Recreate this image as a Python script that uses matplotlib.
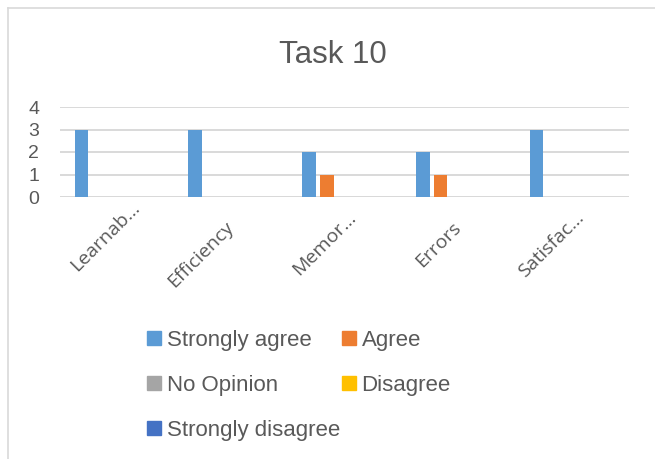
import numpy as np
import matplotlib
matplotlib.use('Agg')
import matplotlib.pyplot as plt
from matplotlib.lines import Line2D
from matplotlib.patches import Patch
from matplotlib.transforms import ScaledTranslation

plt.rcParams['font.family'] = ['Liberation Sans', 'DejaVu Sans']

categories = ['Learnab\u2026', 'Efficiency', 'Memor\u2026', 'Errors', 'Satisfac\u2026']
series_names = ['Strongly agree', 'Agree', 'No Opinion', 'Disagree', 'Strongly disagree']
strongly_agree = [3, 3, 2, 2, 3]
agree = [0, 0, 1, 1, 0]
no_opinion = [0, 0, 0, 0, 0]
disagree = [0, 0, 0, 0, 0]
strongly_disagree = [0, 0, 0, 0, 0]
colors = ['#5b9bd5', '#ed7d31', '#a5a5a5', '#ffc000', '#4472c4']
text_col = '#595959'
grid_col = '#d9d9d9'

values = [strongly_agree, agree, no_opinion, disagree, strongly_disagree]

W, H = 655, 459
fig = plt.figure(figsize=(W / 100, H / 100), dpi=100)
ax = fig.add_axes([60 / W, 1 - 197 / H, (629 - 60) / W, (197 - 107) / H])

x = np.arange(len(categories))
width = 0.12
step = 0.156
for i, (vals, c) in enumerate(zip(values, colors)):
    ax.bar(x + (i - 2) * step, vals, width, color=c, zorder=3)

ax.set_xlim(-0.5, len(categories) - 0.5)
ax.set_ylim(0, 4)
ax.set_yticks([0, 1, 2, 3, 4])
ax.yaxis.grid(True, color=grid_col, linewidth=1.4, zorder=0)
for s in ax.spines.values():
    s.set_visible(False)
ax.axhline(0, color=grid_col, linewidth=1.4, zorder=1)
ax.tick_params(axis='both', length=0, colors=text_col)
ax.tick_params(axis='y', labelsize=14, pad=15)
ax.set_xticks(x)
ax.set_xticklabels([])

# rotated category labels; truncated ones sit a little further along
shift = [28, 0, 13, 0, 13]
for xi, lab, sh in zip(x, categories, shift):
    d = sh / 100 / np.sqrt(2)
    off = ScaledTranslation(d, -0.275 + d, fig.dpi_scale_trans)
    ax.text(xi, 0, lab, transform=ax.get_xaxis_transform() + off,
            rotation=45, rotation_mode='anchor', ha='right', va='center',
            fontsize=14, color=text_col, family=['Open Sans', 'DejaVu Sans'])

fig.text(333 / W, 1 - 63 / H, 'Task 10', ha='center', va='baseline',
         fontsize=22.5, color=text_col)

# legend in two columns
leg_kw = dict(loc='upper left', frameon=False, fontsize=16, labelcolor=text_col,
              handlelength=0.62, handleheight=0.62, handletextpad=0.26,
              labelspacing=1.07, borderpad=0, borderaxespad=0)
col1 = [0, 2, 4]
col2 = [1, 3]
fig.legend([Patch(color=colors[k]) for k in col1], [series_names[k] for k in col1],
           bbox_to_anchor=(147 / W, 1 - 330 / H), **leg_kw)
fig.legend([Patch(color=colors[k]) for k in col2], [series_names[k] for k in col2],
           bbox_to_anchor=(342 / W, 1 - 330 / H), **leg_kw)

# chart border
fig.add_artist(Line2D([8 / W, 8 / W], [0, 1 - 8 / H], color=grid_col, linewidth=1.2))
fig.add_artist(Line2D([8 / W, 1], [1 - 8 / H, 1 - 8 / H], color=grid_col, linewidth=1.2))

fig.savefig('out.png', dpi=100, facecolor='white')
